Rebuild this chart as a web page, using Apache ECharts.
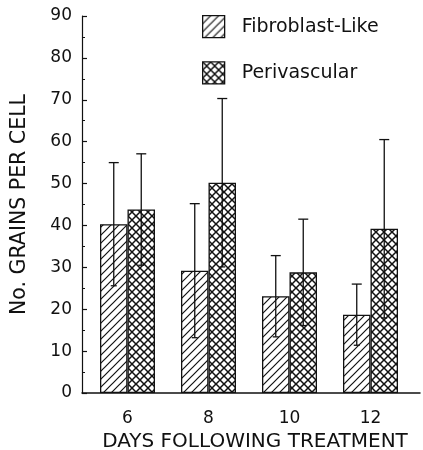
<!DOCTYPE html>
<html>
<head>
<meta charset="utf-8">
<script src="https://cdn.jsdelivr.net/npm/echarts@6/dist/echarts.min.js"></script>
<style>
  html, body { margin: 0; padding: 0; background: #fff; }
  #chart { width: 423px; height: 450px; }
</style>
</head>
<body>
<div id="chart"></div>
<script>
// days after treatment
var days = ['6', '8', '10', '12'];
// mean grains per cell
var fibroMean = [40.3, 29.2, 23.1, 18.7];
var fibroSd = [14.7, 16.0, 9.7, 7.3];
var periMean = [43.8, 50.2, 28.8, 39.2];
var periSd = [13.3, 20.1, 12.7, 21.3];
var yTicks = [0, 10, 20, 30, 40, 50, 60, 70, 80, 90];

var FONT = 'DejaVu Sans';
var BAR_W = 27.5;

// hatch fills
function makeHatch() {
  var c = document.createElement('canvas');
  c.width = 8; c.height = 8;
  var ctx = c.getContext('2d');
  ctx.fillStyle = '#fff';
  ctx.fillRect(0, 0, 8, 8);
  ctx.strokeStyle = '#111';
  ctx.lineWidth = 1.2;
  ctx.beginPath();
  ctx.moveTo(-2, 10); ctx.lineTo(10, -2);
  ctx.moveTo(-2, 2); ctx.lineTo(2, -2);
  ctx.moveTo(6, 10); ctx.lineTo(10, 6);
  ctx.stroke();
  return c;
}
function makeCross() {
  var c = document.createElement('canvas');
  c.width = 8; c.height = 8;
  var ctx = c.getContext('2d');
  ctx.fillStyle = '#fff';
  ctx.fillRect(0, 0, 8, 8);
  ctx.strokeStyle = '#111';
  ctx.lineWidth = 1.5;
  ctx.beginPath();
  ctx.moveTo(-1, 9); ctx.lineTo(9, -1);
  ctx.moveTo(-1, -1); ctx.lineTo(9, 9);
  ctx.stroke();
  return c;
}
var hatchFill = { image: makeHatch(), repeat: 'repeat' };
var crossFill = { image: makeCross(), repeat: 'repeat' };

function errData(mean, sd) {
  return mean.map(function (m, i) { return [i, m - sd[i], m + sd[i]]; });
}

function errRender(shift) {
  return function (params, api) {
    var lo = api.coord([api.value(0), api.value(1)]);
    var hi = api.coord([api.value(0), api.value(2)]);
    var x = hi[0] + shift;
    var style = { stroke: '#111', lineWidth: 1.3 };
    return {
      type: 'group',
      children: [
        { type: 'line', shape: { x1: x, y1: hi[1], x2: x, y2: lo[1] }, style: style },
        { type: 'line', shape: { x1: x - 5, y1: hi[1], x2: x + 5, y2: hi[1] }, style: style },
        { type: 'line', shape: { x1: x - 3, y1: lo[1], x2: x + 3, y2: lo[1] }, style: style }
      ]
    };
  };
}

var chart = echarts.init(document.getElementById('chart'), null, { renderer: 'canvas' });

var option = {
  backgroundColor: '#fff',
  animation: false,
  textStyle: { fontFamily: FONT, color: '#111' },
  legend: {
    orient: 'vertical',
    left: 197,
    top: 10,
    itemWidth: 22,
    itemHeight: 22,
    itemGap: 23,
    icon: 'rect',
    itemStyle: { borderColor: '#111', borderWidth: 1.3 },
    textStyle: { fontFamily: FONT, fontSize: 19, color: '#111', padding: [0, 0, 0, 12] },
    data: ['Fibroblast-Like', 'Perivascular']
  },
  grid: [
    { left: 87, right: 12, top: 16, bottom: 57, outerBoundsMode: 'none', containLabel: false },
    { left: 82, right: 3, top: 16, bottom: 57, outerBoundsMode: 'none', containLabel: false }
  ],
  xAxis: [
    {
      gridIndex: 0,
      type: 'category',
      data: days,
      axisLine: { show: false },
      axisTick: { show: false },
      axisLabel: { fontFamily: FONT, fontSize: 17, color: '#111', margin: 17 }
    },
    {
      gridIndex: 1,
      type: 'value',
      min: 0,
      max: 1,
      axisLine: { show: true, lineStyle: { color: '#111', width: 1.5 } },
      axisTick: { show: false },
      axisLabel: { show: false },
      splitLine: { show: false },
      name: 'DAYS FOLLOWING TREATMENT',
      nameLocation: 'middle',
      nameGap: 39,
      nameTextStyle: { fontFamily: FONT, fontSize: 20, color: '#111', padding: [0, 0, 0, 8] }
    }
  ],
  yAxis: [
    {
      gridIndex: 0,
      type: 'value',
      min: yTicks[0],
      max: yTicks[yTicks.length - 1],
      interval: 10,
      show: false
    },
    {
      gridIndex: 1,
      type: 'value',
      min: yTicks[0],
      max: yTicks[yTicks.length - 1],
      interval: 10,
      axisLine: { show: true, lineStyle: { color: '#111', width: 1.2 } },
      axisTick: { show: true, inside: true, length: 5, lineStyle: { color: '#111', width: 1.2 } },
      minorTick: { show: true, splitNumber: 2, length: 3, lineStyle: { color: '#111', width: 1 } },
      axisLabel: { fontFamily: FONT, fontSize: 17, color: '#111', margin: 10 },
      splitLine: { show: false },
      name: 'No. GRAINS PER CELL',
      nameLocation: 'middle',
      nameGap: 52,
      nameTextStyle: { fontFamily: FONT, fontSize: 20.5, color: '#111' }
    }
  ],
  series: [
    {
      name: 'Fibroblast-Like',
      type: 'bar',
      xAxisIndex: 0,
      yAxisIndex: 0,
      barWidth: BAR_W,
      barGap: '0%',
      data: fibroMean,
      itemStyle: { color: hatchFill, borderColor: '#111', borderWidth: 1.3 }
    },
    {
      name: 'Perivascular',
      type: 'bar',
      xAxisIndex: 0,
      yAxisIndex: 0,
      barWidth: BAR_W,
      barGap: '0%',
      data: periMean,
      itemStyle: { color: crossFill, borderColor: '#111', borderWidth: 1.3 }
    },
    {
      type: 'custom',
      xAxisIndex: 0,
      yAxisIndex: 0,
      z: 5,
      renderItem: errRender(-BAR_W / 2),
      encode: { x: 0, y: [1, 2] },
      data: errData(fibroMean, fibroSd)
    },
    {
      type: 'custom',
      xAxisIndex: 0,
      yAxisIndex: 0,
      z: 5,
      renderItem: errRender(BAR_W / 2),
      encode: { x: 0, y: [1, 2] },
      data: errData(periMean, periSd)
    }
  ]
};

chart.setOption(option);
</script>
</body>
</html>
